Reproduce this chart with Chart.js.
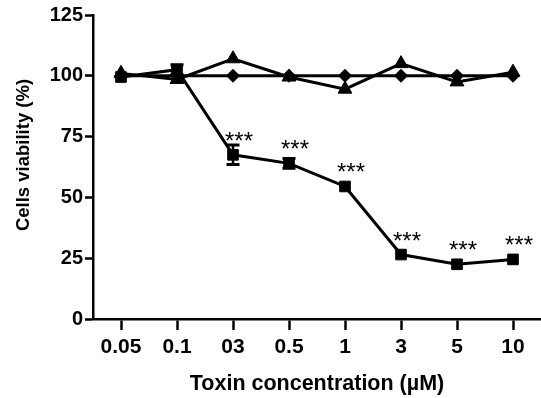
<!DOCTYPE html>
<html><head><meta charset="utf-8">
<script src="https://cdn.jsdelivr.net/npm/chart.js@4"></script>
<style>html,body{margin:0;padding:0;background:#fff;} #wrap{width:541px;height:398px;}</style>
</head><body><div id="wrap"><canvas id="c" width="541" height="398"></canvas></div>
<script>
const categories = ['0.05', '0.1', '03', '0.5', '1', '3', '5', '10'];
const squareValues = [99.5, 102.5, 67.5, 64, 54.5, 26.5, 22.5, 24.5];
const squareErrors = [0, 2, 4, 2, 0, 0, 0, 0];
const significance = ['', '', '***', '***', '***', '***', '***', '***'];
const diamondValues = [100, 100, 100, 100, 100, 100, 100, 100];
const triangleValues = [101, 98.5, 107, 99.5, 94.5, 105, 97.5, 101.5];
const yTicks = [0, 25, 50, 75, 100, 125];
const yTitle = 'Cells viability (%)';
const xTitle = 'Toxin concentration (µM)';

const FONT = '"Liberation Sans", Arial, sans-serif';

const annot = {
  id: 'annot',
  afterDatasetsDraw(chart) {
    const ctx = chart.ctx, x = chart.scales.x, y = chart.scales.y;
    ctx.save();
    ctx.strokeStyle = '#000';
    ctx.fillStyle = '#000';
    squareValues.forEach((v, i) => {
      const px = x.getPixelForValue(i);
      const e = squareErrors[i];
      if (e > 0) {
        const yt = y.getPixelForValue(v + e), yb = y.getPixelForValue(v - e);
        ctx.lineWidth = 2.5;
        ctx.beginPath(); ctx.moveTo(px, yt); ctx.lineTo(px, yb); ctx.stroke();
        ctx.lineWidth = 3;
        ctx.beginPath();
        ctx.moveTo(px - 6.5, yt); ctx.lineTo(px + 6.5, yt);
        ctx.moveTo(px - 6.5, yb); ctx.lineTo(px + 6.5, yb);
        ctx.stroke();
      }
      if (significance[i]) {
        ctx.font = '24px ' + FONT;
        ctx.textAlign = 'center';
        ctx.textBaseline = 'alphabetic';
        ctx.fillText(significance[i], px + 6, y.getPixelForValue(v) - 6);
      }
    });
    ctx.restore();
  },
  afterDraw(chart) {
    const ctx = chart.ctx, y = chart.scales.y;
    ctx.save();
    ctx.fillStyle = '#000';
    ctx.font = 'bold 18.5px ' + FONT;
    ctx.textAlign = 'center';
    ctx.textBaseline = 'middle';
    ctx.translate(24, (y.top + y.bottom) / 2 - 12);
    ctx.rotate(-Math.PI / 2);
    ctx.fillText(yTitle, 0, 0);
    ctx.restore();
  }
};

const common = { borderColor: '#000', backgroundColor: '#000', pointBackgroundColor: '#000', pointBorderColor: '#000', borderWidth: 3, pointBorderWidth: 1, tension: 0, fill: false };

new Chart(document.getElementById('c'), {
  type: 'line',
  data: {
    labels: categories,
    datasets: [
      Object.assign({ label: 'Diamonds', data: diamondValues, pointStyle: 'rectRot', pointRadius: 6.5, pointHoverRadius: 6.5 }, common),
      Object.assign({ label: 'Triangles', data: triangleValues, pointStyle: 'triangle', pointRadius: 8, pointHoverRadius: 8 }, common),
      Object.assign({ label: 'Squares', data: squareValues, pointStyle: 'rect', pointRadius: 7.5, pointHoverRadius: 7.5 }, common)
    ]
  },
  options: {
    responsive: false,
    animation: false,
    events: [],
    layout: { autoPadding: false, padding: { top: 15, right: 0, bottom: 0, left: 0 } },
    plugins: { legend: { display: false }, tooltip: { enabled: false } },
    scales: {
      x: {
        type: 'category',
        offset: true,
        grid: { display: true, drawOnChartArea: false, drawTicks: true, tickLength: 11, tickWidth: 2.5, color: '#000', offset: false },
        border: { display: true, color: '#000', width: 2.5 },
        ticks: { color: '#000', font: { family: FONT, size: 21, weight: 'bold' }, padding: 5, maxRotation: 0, autoSkip: false },
        title: { display: true, text: xTitle, color: '#000', font: { family: FONT, size: 21.5, weight: 'bold' }, padding: { top: 4, bottom: 1 } },
        afterFit(s) { s.height = 79; s.paddingLeft = 0; s.paddingRight = 0; }
      },
      y: {
        min: 0, max: 125,
        afterBuildTicks(s) { s.ticks = yTicks.map(v => ({ value: v })); },
        grid: { display: true, drawOnChartArea: false, drawTicks: true, tickLength: 8, tickWidth: 2.5, color: '#000' },
        border: { display: true, color: '#000', width: 2.5 },
        ticks: { color: '#000', font: { family: FONT, size: 20, weight: 'bold' }, padding: 2 },
        title: { display: false },
        afterFit(s) { s.width = 93; s.paddingTop = 0; s.paddingBottom = 0; }
      }
    }
  },
  plugins: [annot]
});
</script>
</body></html>
